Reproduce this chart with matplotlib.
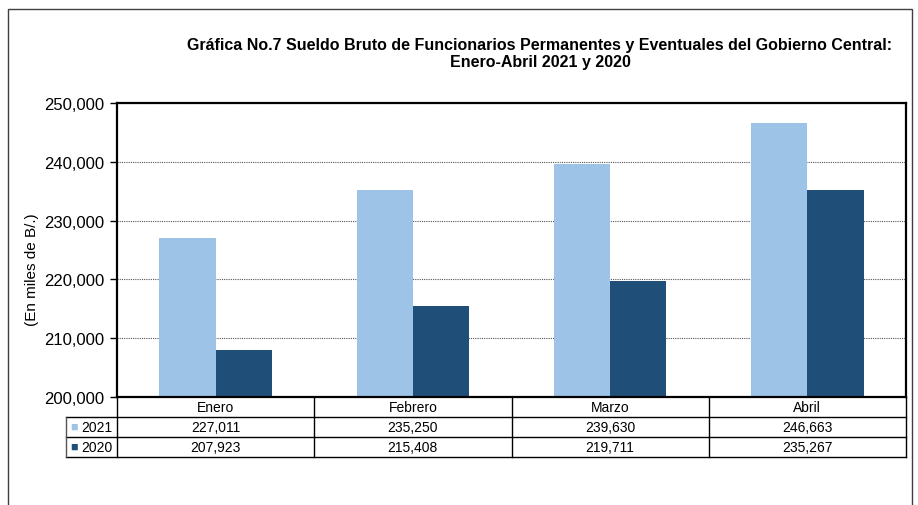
import matplotlib.pyplot as plt
from matplotlib.patches import Rectangle

plt.rcParams['font.family'] = ['Liberation Sans', 'DejaVu Sans']

meses = ['Enero', 'Febrero', 'Marzo', 'Abril']
anios = ['2021', '2020']
v2021 = [227011, 235250, 239630, 246663]
v2020 = [207923, 215408, 219711, 235267]
colores = ['#9DC3E6', '#1F4E79']

W, H = 918, 506
fig = plt.figure(figsize=(W / 100, H / 100), dpi=100)

# marco exterior
fig.patches.append(Rectangle((8 / W, -0.1), (912 - 8) / W, 1.1 - 10 / H,
                             transform=fig.transFigure, fill=False,
                             edgecolor='#404040', linewidth=1))

ax = fig.add_axes([117 / W, 1 - 398 / H, (906 - 117) / W, (398 - 104) / H])

x = [i + 0.5 for i in range(len(meses))]
bw = 0.285
ax.bar([p - bw / 2 for p in x], [v - 200000 for v in v2021], bw, bottom=200000,
       color=colores[0], zorder=2)
ax.bar([p + bw / 2 for p in x], [v - 200000 for v in v2020], bw, bottom=200000,
       color=colores[1], zorder=2)

ax.set_xlim(0, 4)
ax.set_ylim(200000, 250000)
ax.set_yticks(range(200000, 250001, 10000))
ax.set_yticklabels([f'{t:,}' for t in range(200000, 250001, 10000)], fontsize=12)
ax.set_xticks([])
ax.tick_params(axis='y', length=5, width=1, pad=4)
ax.yaxis.grid(True, linestyle=(0, (1, 1)), color='#555555', linewidth=0.8, zorder=0)
for s in ax.spines.values():
    s.set_linewidth(1.6)
ax.set_ylabel('(En miles de B/.)', fontsize=11)
ax.yaxis.set_label_coords((39 - 117) / 789, (398 - 270) / 294)

# tabla de datos (dibujada a mano con lineas)
x0 = (66 - 117) / (906 - 117)
rh = 20 / (398 - 104)
tr = ax.transAxes
kw = dict(color='black', linewidth=1, transform=tr, clip_on=False)
for k in (1, 2, 3):
    ax.plot([x0, 1], [-k * rh, -k * rh], **kw)
for i in range(len(meses) + 1):
    ax.plot([i / 4, i / 4], [0, -3 * rh], **kw)
ax.plot([x0, x0], [-rh, -3 * rh], color='#555555', linewidth=1,
        transform=tr, clip_on=False)

for i, m in enumerate(meses):
    ax.text((i + 0.5) / 4, -0.5 * rh, m, ha='center', va='center',
            fontsize=10, transform=tr)
for j, serie in enumerate([v2021, v2020]):
    yc = -rh * (1.5 + j)
    for i, v in enumerate(serie):
        ax.text((i + 0.5) / 4, yc, f'{v:,}', ha='center', va='center',
                fontsize=10, transform=tr)
    ax.text(x0 + 0.005, yc, '\u25A0', color=colores[j], fontsize=9,
            va='center', ha='left', transform=tr)
    ax.text(x0 + 0.019, yc, anios[j], fontsize=10, va='center', ha='left',
            transform=tr)

fig.text(540 / W, 1 - 54 / H,
         'Gráfica No.7 Sueldo Bruto de Funcionarios Permanentes y Eventuales del Gobierno Central:\nEnero-Abril 2021 y 2020',
         ha='center', va='center', fontsize=11.5, fontweight='bold', linespacing=1.15)

fig.savefig('out.png', dpi=100)
